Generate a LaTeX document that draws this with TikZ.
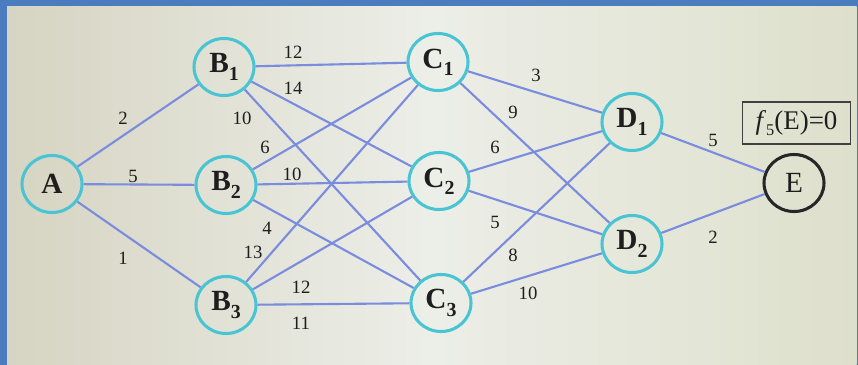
\documentclass[tikz,border=0pt]{standalone}
\usepackage{fontspec}
\setmainfont{Liberation Serif}
\usetikzlibrary{shapes.geometric}
\definecolor{framebl}{RGB}{74,124,190}
\definecolor{edgebl}{RGB}{122,140,222}
\definecolor{nodecy}{RGB}{72,196,210}
\definecolor{bgl}{RGB}{214,212,194}
\definecolor{bgm}{RGB}{236,238,232}
\definecolor{bgr}{RGB}{222,224,204}
\definecolor{ink}{RGB}{30,30,30}
\newlength{\pxu}
\setlength{\pxu}{0.8536pt}
\newcommand{\sbs}[1]{\raisebox{-0.55ex}{\fontsize{17}{17}\selectfont #1}}
\tikzset{
  vtx/.style={ellipse, draw=nodecy, line width=2.6pt, fill=none, minimum width=60\pxu, minimum height=57\pxu, inner sep=0pt, text=ink, font=\fontsize{25}{28}\selectfont\bfseries},
  endvtx/.style={vtx, draw=black!85},
  edg/.style={draw=edgebl, line width=1.8pt},
  wlab/.style={text=ink, font=\fontsize{16}{18}\selectfont, inner sep=0pt},
}
\begin{document}
\begin{tikzpicture}[x=0.03cm, y=-0.03cm]
\useasboundingbox (0,0) rectangle (858,365);
\fill[framebl] (0,0) rectangle (858,365);
\shade[left color=bgl, right color=bgm] (7,6) rectangle (430,365);
\shade[left color=bgm, right color=bgr] (429.5,6) rectangle (856.5,365);
% nodes
\node[vtx] (A)  at (52,184) {A};
\node[vtx] (B1) at (224,67) {B\sbs{1}};
\node[vtx] (B2) at (226,185) {B\sbs{2}};
\node[vtx] (B3) at (226,305) {B\sbs{3}};
\node[vtx] (C1) at (438,62) {C\sbs{1}};
\node[vtx] (C2) at (439,181) {C\sbs{2}};
\node[vtx] (C3) at (441,303) {C\sbs{3}};
\node[vtx] (D1) at (632,122) {D\sbs{1}};
\node[vtx] (D2) at (632,244) {D\sbs{2}};
\node[endvtx, font=\fontsize{25}{28}\selectfont] (E) at (794,183) {E};
\node[draw=black!75, line width=1.6pt, minimum width=108\pxu, minimum height=42\pxu, inner sep=0pt, text=ink, font=\fontsize{23}{26}\selectfont] (F) at (796.5,123) {\textit{f}\raisebox{-0.5ex}{\fontsize{14}{14}\selectfont 5}(E)=0};
% edges
\draw[edg] (A) -- (B1);
\draw[edg] (A) -- (B2);
\draw[edg] (A) -- (B3);
\draw[edg] (B1) -- (C1);
\draw[edg] (B1) -- (C2);
\draw[edg] (B1) -- (C3);
\draw[edg] (B2) -- (C1);
\draw[edg] (B2) -- (C2);
\draw[edg] (B2) -- (C3);
\draw[edg] (B3) -- (C1);
\draw[edg] (B3) -- (C2);
\draw[edg] (B3) -- (C3);
\draw[edg] (C1) -- (D1);
\draw[edg] (C1) -- (D2);
\draw[edg] (C2) -- (D1);
\draw[edg] (C2) -- (D2);
\draw[edg] (C3) -- (D1);
\draw[edg] (C3) -- (D2);
\draw[edg] (D1) -- (E);
\draw[edg] (D2) -- (E);
% weights
\node[wlab] (w1)  at (123,118) {2};
\node[wlab] (w2)  at (133,176) {5};
\node[wlab] (w3)  at (123,258) {1};
\node[wlab] (w4)  at (293,52) {12};
\node[wlab] (w5)  at (293,88) {14};
\node[wlab] (w6)  at (242,118) {10};
\node[wlab] (w7)  at (265,147) {6};
\node[wlab] (w8)  at (292,174) {10};
\node[wlab] (w9)  at (267,228) {4};
\node[wlab] (w10) at (253,252) {13};
\node[wlab] (w11) at (301,287) {12};
\node[wlab] (w12) at (301,323) {11};
\node[wlab] (w13) at (536,75) {3};
\node[wlab] (w14) at (513,112) {9};
\node[wlab] (w15) at (495,147) {6};
\node[wlab] (w16) at (495,222) {5};
\node[wlab] (w17) at (513,255) {8};
\node[wlab] (w18) at (528,293) {10};
\node[wlab] (w19) at (713,140) {5};
\node[wlab] (w20) at (713,237) {2};
\end{tikzpicture}
\end{document}
